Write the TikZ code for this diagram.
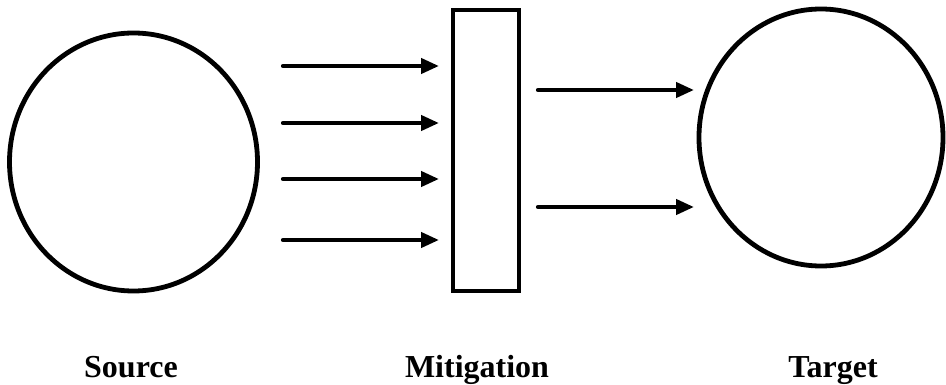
\documentclass[tikz,border=0pt]{standalone}
\usepackage{fontspec}
\setmainfont{Liberation Serif}
\usetikzlibrary{arrows.meta,shapes.geometric}
\begin{document}
\begin{tikzpicture}[x=1pt,y=-1pt,
  shapeline/.style={draw=black,line width=4.8pt},
  flow/.style={draw=black,line width=4.2pt,line cap=round,-{Triangle[length=18pt,width=15pt]}},
  caption/.style={font=\fontsize{32}{40}\selectfont\bfseries,anchor=base,inner sep=0pt}]
\useasboundingbox (0,0) rectangle (946,385);
% shapes
\node[shapeline,ellipse,minimum width=248pt,minimum height=258pt,inner sep=0pt] (src) at (133.5,162) {};
\node[shapeline,ellipse,minimum width=244pt,minimum height=257pt,inner sep=0pt] (tgt) at (821,137.5) {};
\node[shapeline,rectangle,minimum width=66pt,minimum height=281pt,inner sep=0pt] (mit) at (486,150.5) {};
% arrow end points
\coordinate (s1) at (283,66);  \coordinate (e1) at (439,66);
\coordinate (s2) at (283,123); \coordinate (e2) at (439,123);
\coordinate (s3) at (283,179); \coordinate (e3) at (439,179);
\coordinate (s4) at (283,240); \coordinate (e4) at (439,240);
\coordinate (r1) at (538,90);  \coordinate (f1) at (694,90);
\coordinate (r2) at (538,207); \coordinate (f2) at (694,207);
\draw[flow] (s1) -- (e1);
\draw[flow] (s2) -- (e2);
\draw[flow] (s3) -- (e3);
\draw[flow] (s4) -- (e4);
\draw[flow] (r1) -- (f1);
\draw[flow] (r2) -- (f2);
% labels
\node[caption] (lsrc) at (131,377) {Source};
\node[caption] (lmit) at (477,377) {Mitigation};
\node[caption] (ltgt) at (833,377) {Target};
\end{tikzpicture}
\end{document}
